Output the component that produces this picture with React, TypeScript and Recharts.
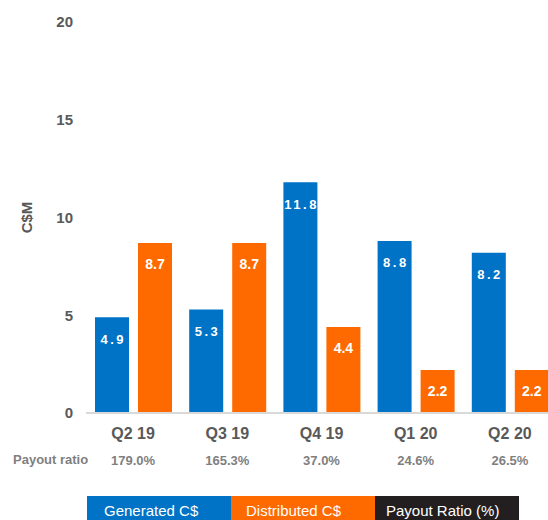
import { BarChart, Bar, XAxis, YAxis, LabelList } from 'recharts';

const quarters = ['Q2 19', 'Q3 19', 'Q4 19', 'Q1 20', 'Q2 20'];
const generated = [4.9, 5.3, 11.8, 8.8, 8.2];
const distributed = [8.7, 8.7, 4.4, 2.2, 2.2];
const payoutRatio = ['179.0%', '165.3%', '37.0%', '24.6%', '26.5%'];
const yTicks = [0, 5, 10, 15, 20];
const seriesNames = ['Generated C$', 'Distributed C$', 'Payout Ratio (%)'];

const BLUE = '#0073C6';
const ORANGE = '#FF6A00';
const DARK = '#231F20';
const FONT = '"Liberation Sans", Arial, sans-serif';

const data = quarters.map((q, i) => ({
  quarter: q,
  generated: generated[i],
  distributed: distributed[i],
  payout: payoutRatio[i],
}));

const QuarterTick = (props: any) => {
  const { x, y, payload, index } = props;
  return (
    <g>
      <text x={x} y={y + 20} textAnchor="middle" dominantBaseline="central"
        fontFamily={FONT} fontSize={16} fontWeight="bold" fill="#595959">
        {payload.value}
      </text>
      <text x={x} y={y + 47} textAnchor="middle" dominantBaseline="central"
        fontFamily={FONT} fontSize={13} fontWeight="bold" fill="#7f7f7f">
        {data[index]?.payout}
      </text>
    </g>
  );
};

const makeLabel = (dy: number, size: number, spacing: number) => (props: any) => {
  const { x, y, width, value } = props;
  return (
    <text x={x + width / 2 + spacing / 2} y={y + dy} textAnchor="middle" dominantBaseline="central"
      fontFamily={FONT} fontSize={size} fontWeight="bold" fill="#fff" letterSpacing={spacing}>
      {value.toFixed(1)}
    </text>
  );
};

const YTitle = (props: any) => {
  const { viewBox } = props;
  const cx = viewBox.x + 26;
  const cy = viewBox.y + viewBox.height / 2;
  return (
    <text x={cx} y={cy} transform={`rotate(-90, ${cx}, ${cy})`} textAnchor="middle"
      dominantBaseline="central" fontFamily={FONT} fontSize={15} fontWeight="bold" fill="#595959">
      C$M
    </text>
  );
};

const legendColors = [BLUE, ORANGE, DARK];
const legendPad = [17, 15, 11];

export default function App() {
  return (
    <div style={{ position: 'absolute', top: 0, left: 0, width: 548, height: 520, overflow: 'hidden', background: '#fff', fontFamily: FONT }}>
      <BarChart width={560} height={520} data={data} barSize={34} barGap={9}
        margin={{ top: 22, right: 3, bottom: 77, left: 0 }}>
        <XAxis dataKey="quarter" height={30} axisLine={{ stroke: '#d9d9d9', strokeWidth: 2 }} tickLine={false}
          tickSize={0} tickMargin={0} interval={0} tick={<QuarterTick />} />
        <YAxis width={86} domain={[0, 20]} ticks={yTicks} axisLine={false} tickLine={false}
          tickSize={0} tickMargin={13}
          tick={{ fill: '#595959', fontSize: 15, fontWeight: 'bold', fontFamily: FONT }}
          label={<YTitle />} />
        <Bar dataKey="generated" fill={BLUE} isAnimationActive={false}>
          <LabelList dataKey="generated" content={makeLabel(22, 13, 2.5)} />
        </Bar>
        <Bar dataKey="distributed" fill={ORANGE} isAnimationActive={false}>
          <LabelList dataKey="distributed" content={makeLabel(21, 14, 0)} />
        </Bar>
      </BarChart>
      <div style={{ position: 'absolute', left: 13, top: 451, fontSize: 13, fontWeight: 'bold', color: '#7f7f7f', lineHeight: '18px' }}>
        Payout ratio
      </div>
      <div style={{ position: 'absolute', left: 87, top: 496, display: 'flex' }}>
        {seriesNames.map((name, i) => (
          <div key={name} style={{ width: 144, height: 30, lineHeight: '30px', background: legendColors[i], color: '#fff', fontSize: 15, paddingLeft: legendPad[i], boxSizing: 'border-box', whiteSpace: 'nowrap' }}>
            {name}
          </div>
        ))}
      </div>
    </div>
  );
}
